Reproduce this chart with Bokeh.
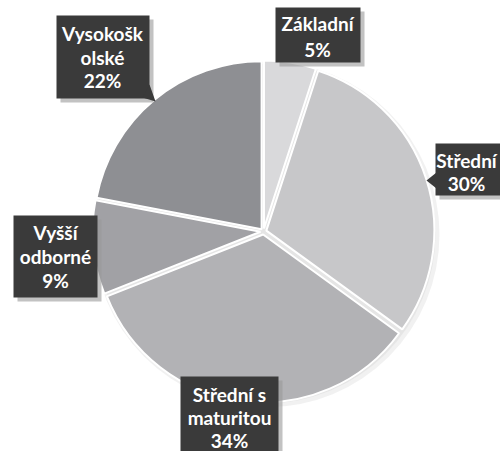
import math
from bokeh.plotting import figure
from bokeh.models import Range1d, ColumnDataSource
from bokeh.core.properties import value
from bokeh.embed import file_html
from bokeh.resources import INLINE

# ---- data ----
categories = ["Základní", "Střední", "Střední s maturitou", "Vyšší odborné", "Vysokoškolské"]
shares = [5, 30, 34, 9, 22]
label_text_lines = [["Základní"], ["Střední"], ["Střední s", "maturitou"], ["Vyšší", "odborné"], ["Vysokošk", "olské"]]
colors = ["#d9d9db", "#c7c7c9", "#b2b2b5", "#a1a1a5", "#8e8f93"]

# ---- layout (page pixels of the 500x451 window) ----
W, H = 500, 451
CX, CY, R = 263, 231, 168
EXPLODE = 3
# box: left, right, top, bottom (pixels); text centre x, line centre ys
boxes = [
    (275, 360, 7, 62, 317, [23, 49]),
    (435, 510, 143, 195, 466, [160, 183]),
    (180, 278, 376, 470, 229, [394, 417, 440]),
    (13, 97, 215, 297, 55, [232, 256, 280]),
    (56, 149, 15, 98, 102, [33, 57, 80]),
]

def Y(py):
    return H - py

p = figure(width=W, height=H, output_backend="svg", toolbar_location=None,
           x_range=Range1d(0, W), y_range=Range1d(0, H),
           min_border=0, outline_line_color=None, background_fill_color="white",
           border_fill_color="white")
p.axis.visible = False
p.grid.visible = False

# wedges
total = sum(shares)
starts, ends, xs, ys = [], [], [], []
a = math.pi / 2
for s in shares:
    sweep = 2 * math.pi * s / total
    st, en = a, a - sweep
    mid = (st + en) / 2
    starts.append(st)
    ends.append(en)
    xs.append(CX + EXPLODE * math.cos(mid))
    ys.append(Y(CY) + EXPLODE * math.sin(mid))
    a = en

# soft shadow
p.circle(x=CX + 3, y=Y(CY) - 3, radius=R + 5, fill_color="#eeeeee", line_color=None, alpha=0.8)
p.circle(x=CX + 2, y=Y(CY) - 2, radius=R + 2, fill_color="#e2e2e2", line_color=None, alpha=0.8)

src = ColumnDataSource(dict(x=xs, y=ys, start=starts, end=ends, color=colors, cat=categories))
p.wedge(x="x", y="y", radius=R, start_angle="start", end_angle="end", direction="clock",
        fill_color="color", line_color="white", line_width=2, source=src)

# label boxes
for i, (l, r, t, b, tx, lys) in enumerate(boxes):
    p.quad(left=l + 4, right=r + 4, top=Y(t + 4), bottom=Y(b + 4), fill_color="#9a9a9a",
           fill_alpha=0.6, line_color=None)
    p.quad(left=l, right=r, top=Y(t), bottom=Y(b), fill_color="#3a3a3a", line_color=None)

# pointers
p.patch(x=[142, 149, 155], y=[Y(97), Y(84), Y(101)], fill_color="#3a3a3a", line_color=None)
p.patch(x=[436, 436, 426], y=[Y(172), Y(188), Y(180)], fill_color="#3a3a3a", line_color=None)

# label text
txt_x, txt_y, txt = [], [], []
for i, (l, r, t, b, tx, lys) in enumerate(boxes):
    lines = label_text_lines[i] + [f"{shares[i]}%"]
    for ln, py in zip(lines, lys):
        txt_x.append(tx)
        txt_y.append(Y(py))
        txt.append(ln)
p.text(x=txt_x, y=txt_y, text=txt, text_color="white", text_font=value("Lato"),
       text_font_style="bold", text_font_size="19px", text_align="center",
       text_baseline="middle")

open("out.html", "w").write(file_html(p, INLINE))
